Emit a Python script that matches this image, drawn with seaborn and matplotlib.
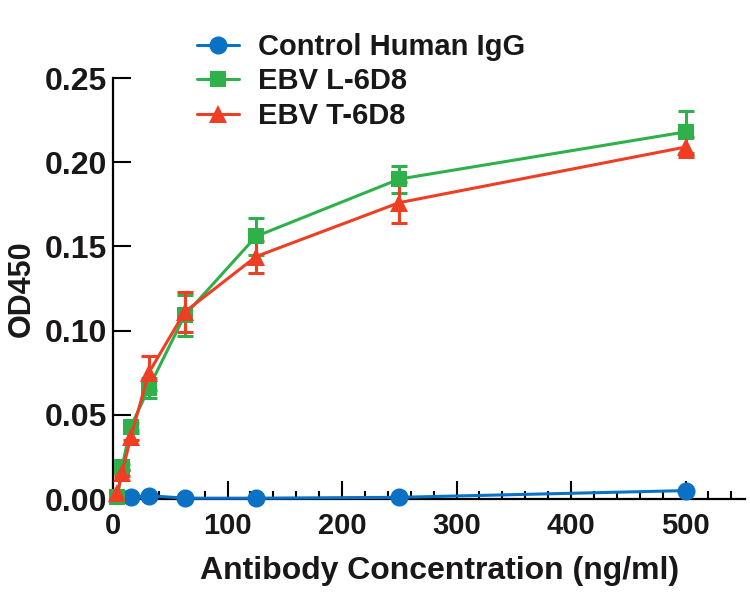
import numpy as np
import pandas as pd
import seaborn as sns
import matplotlib.pyplot as plt
from matplotlib.ticker import MultipleLocator
from matplotlib.lines import Line2D

# Data
conc = [3.9, 7.8, 15.6, 31.25, 62.5, 125, 250, 500]
conc_ctrl = [15.6, 31.25, 62.5, 125, 250, 500]

ctrl_od = [0.001, 0.002, 0.0005, 0.0005, 0.001, 0.005]
l6d8_od = [0.001, 0.019, 0.043, 0.066, 0.109, 0.156, 0.190, 0.218]
l6d8_err = [0.001, 0.002, 0.002, 0.006, 0.012, 0.011, 0.008, 0.0125]
t6d8_od = [0.0035, 0.0155, 0.037, 0.075, 0.111, 0.144, 0.176, 0.209]
t6d8_err = [0.001, 0.002, 0.002, 0.010, 0.012, 0.0095, 0.012, 0.006]

labels = ["Control Human IgG", "EBV L-6D8", "EBV T-6D8"]
colors = ["#0A71C4", "#2EB04B", "#EF3E23"]
markers = ["o", "s", "^"]

df = pd.concat([
    pd.DataFrame({"conc": conc_ctrl, "od": ctrl_od, "err": 0.0, "sample": labels[0]}),
    pd.DataFrame({"conc": conc, "od": l6d8_od, "err": l6d8_err, "sample": labels[1]}),
    pd.DataFrame({"conc": conc, "od": t6d8_od, "err": t6d8_err, "sample": labels[2]}),
], ignore_index=True)

sns.set_style("ticks")
plt.rcParams["font.family"] = ["Liberation Sans", "DejaVu Sans"]
plt.rcParams["font.weight"] = "bold"
txt = "#1a1718"
plt.rcParams.update({"text.color": txt, "axes.labelcolor": txt,
                     "xtick.color": "black", "ytick.color": "black",
                     "xtick.labelcolor": txt, "ytick.labelcolor": txt})

fig = plt.figure(figsize=(7.5, 6.09), dpi=100)
ax = fig.add_axes([0.1507, 0.1806, 0.8427, 0.6913])

sizes = {"o": 13, "s": 12, "^": 13}
for lab, col, mk in zip(labels, colors, markers):
    sub = df[df["sample"] == lab]
    if sub["err"].max() > 0:
        ax.errorbar(sub["conc"], sub["od"], yerr=sub["err"], fmt="none",
                    ecolor=col, elinewidth=2.2, capsize=6, capthick=2.2,
                    clip_on=False, zorder=3)
    sns.lineplot(data=sub, x="conc", y="od", color=col, marker=mk,
                 markersize=sizes[mk], markeredgewidth=0, linewidth=2.2,
                 ax=ax, clip_on=False, zorder=4, legend=False)

ax.set_xlim(0, 552)
ax.set_ylim(0, 0.25)
ax.xaxis.set_major_locator(MultipleLocator(100))
ax.xaxis.set_minor_locator(MultipleLocator(20))
ax.yaxis.set_major_locator(MultipleLocator(0.05))
ax.yaxis.set_major_formatter(plt.FormatStrFormatter("%.2f"))

ax.tick_params(axis="both", which="major", direction="in", length=13,
               width=1.5, color="black")
ax.tick_params(axis="x", which="minor", direction="in", length=6,
               width=1.5, color="black")
ax.tick_params(axis="y", labelsize=23, pad=4)
ax.tick_params(axis="x", labelsize=21, pad=9)
for t in ax.get_xticklabels() + ax.get_yticklabels():
    t.set_fontweight("bold")

for s in ["top", "right"]:
    ax.spines[s].set_visible(False)
for s in ["left", "bottom"]:
    ax.spines[s].set_linewidth(1.6)
    ax.spines[s].set_color("black")

ax.set_xlabel("Antibody Concentration (ng/ml)", fontsize=23, fontweight="bold")
ax.set_ylabel("OD450", fontsize=22, fontweight="bold")
ax.xaxis.set_label_coords((440 - 113) / 632, -0.135)
ax.yaxis.set_label_coords((37 - 113) / 632, 0.5)

handles = [Line2D([0], [0], color=c, marker=m, markersize=sizes[m],
                  markeredgewidth=0, linewidth=2.2)
           for c, m in zip(colors, markers)]
leg = fig.legend(handles, labels, loc="upper left",
                 bbox_to_anchor=(197 / 750, 1 - 33 / 609), frameon=False,
                 fontsize=21, handlelength=1.45, handletextpad=0.65,
                 labelspacing=0.22, borderpad=0, borderaxespad=0)
for t in leg.get_texts():
    t.set_fontweight("bold")

fig.savefig("out.png", dpi=100)
